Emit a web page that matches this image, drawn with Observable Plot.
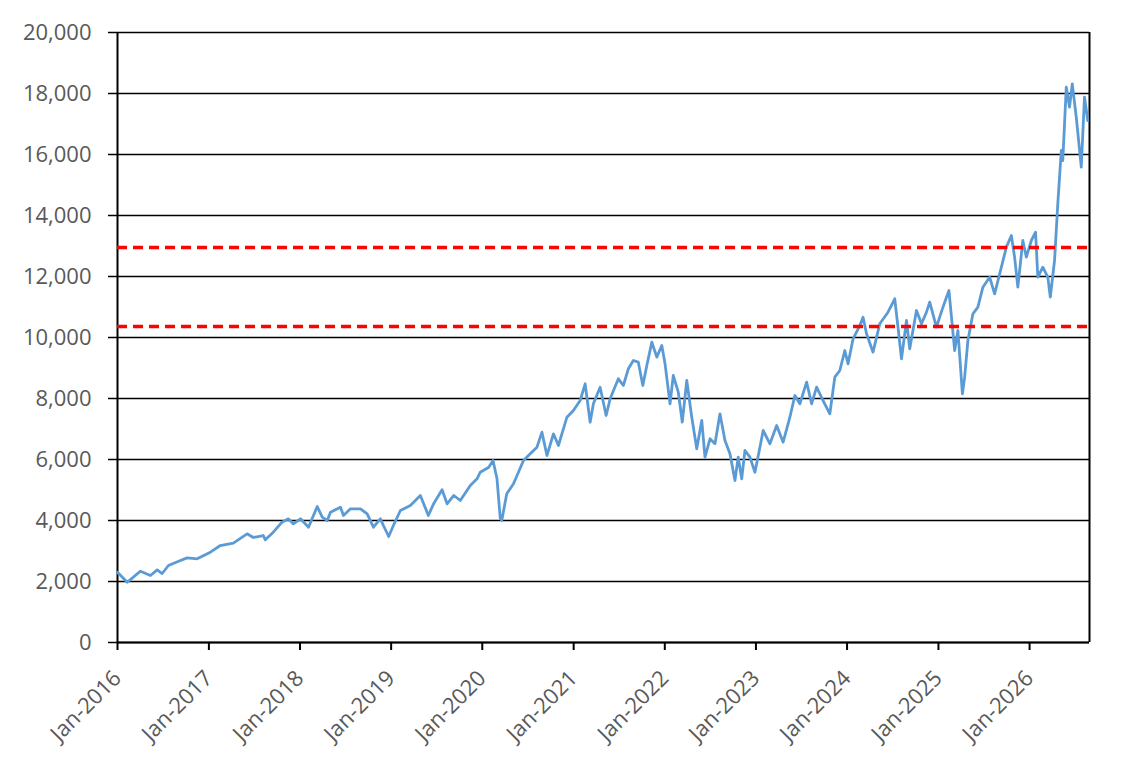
<!DOCTYPE html>
<html>
<head>
<meta charset="utf-8">
<script src="https://cdn.jsdelivr.net/npm/d3@7"></script>
<script src="https://cdn.jsdelivr.net/npm/@observablehq/plot@0.6"></script>
<style>
  html, body { margin: 0; padding: 0; background: #fff; }
</style>
</head>
<body>
<div id="chart"></div>
<script>
const dates = [
  "2016-01-01","2016-02-09","2016-04-02","2016-05-12","2016-06-08","2016-06-28","2016-07-23","2016-09-09","2016-10-06","2016-11-15",
  "2017-01-07","2017-02-16","2017-04-09","2017-06-03","2017-06-28","2017-08-07","2017-08-15","2017-09-16","2017-10-21","2017-11-15","2017-12-05",
  "2018-01-03","2018-02-04","2018-03-11","2018-03-31","2018-04-20","2018-05-03","2018-06-12","2018-06-24","2018-07-22","2018-08-31","2018-09-27","2018-10-22","2018-11-19","2018-12-01","2018-12-22",
  "2019-01-10","2019-02-07","2019-03-19","2019-04-28","2019-05-30","2019-06-20","2019-07-24","2019-08-13","2019-09-09","2019-10-05","2019-11-14","2019-12-11","2019-12-24",
  "2020-01-27","2020-02-13","2020-02-29","2020-03-13","2020-03-19","2020-04-08","2020-05-05","2020-06-14","2020-07-11","2020-08-07","2020-08-27","2020-09-16","2020-10-12","2020-11-01","2020-12-05","2020-12-31",
  "2021-01-27","2021-02-16","2021-03-08","2021-03-21","2021-04-17","2021-05-11","2021-05-27","2021-06-29","2021-07-19","2021-08-08","2021-08-28","2021-09-17","2021-10-05","2021-10-21","2021-11-10","2021-11-30","2021-12-20",
  "2022-01-02","2022-01-22","2022-02-04","2022-02-24","2022-03-12","2022-03-30","2022-04-19","2022-05-09","2022-05-29","2022-06-11","2022-07-01","2022-07-21","2022-08-10","2022-08-30","2022-09-19","2022-10-09","2022-10-22","2022-11-05","2022-11-18","2022-12-08","2022-12-28",
  "2023-01-17","2023-01-30","2023-02-19","2023-02-26","2023-03-25","2023-04-20","2023-05-17","2023-06-06","2023-06-26","2023-07-23","2023-08-12","2023-09-01","2023-09-27","2023-10-24","2023-11-13","2023-12-03","2023-12-23",
  "2024-01-05","2024-01-25","2024-02-21","2024-03-05","2024-03-19","2024-04-14","2024-05-11","2024-06-13","2024-07-10","2024-07-23","2024-08-06","2024-08-26","2024-09-08","2024-10-05","2024-10-25","2024-11-14","2024-11-27","2024-12-24",
  "2025-01-19","2025-02-12","2025-03-07","2025-03-20","2025-04-07","2025-04-16","2025-04-29","2025-05-19","2025-06-08","2025-06-28","2025-07-25","2025-08-14","2025-09-10","2025-09-30","2025-10-20","2025-11-02","2025-11-15","2025-12-05","2025-12-19",
  "2026-01-08","2026-01-25","2026-02-03","2026-02-23","2026-03-15","2026-03-25","2026-04-11","2026-04-24","2026-05-08","2026-05-14","2026-05-28","2026-06-10","2026-06-21","2026-07-07","2026-07-27","2026-08-09","2026-08-22"
];
const values = [
  2305,1977,2338,2197,2383,2262,2525,2689,2776,2743,
  2962,3180,3257,3563,3443,3508,3367,3617,3945,4055,3891,
  4055,3781,4459,4108,4000,4273,4437,4164,4383,4383,4219,3781,4055,3836,3475,
  3836,4328,4492,4820,4164,4547,5006,4547,4820,4656,5148,5367,5584,
  5748,5967,5367,4066,4000,4875,5203,5967,6186,6404,6896,6131,6842,6459,7387,7607,
  7934,8482,7223,7826,8371,7443,7990,8646,8427,8974,9246,9191,8427,9082,9847,9355,9738,
  9137,7826,8755,8207,7223,8590,7387,6350,7279,6076,6679,6514,7498,6623,6186,5311,6076,5367,6295,6076,5584,
  6404,6951,6623,6514,7115,6568,7387,8098,7826,8536,7826,8371,7934,7498,8700,8918,9574,
  9137,9957,10393,10666,10121,9519,10449,10830,11269,10338,9301,10557,9629,10885,10449,10830,11158,10338,
  10994,11541,9574,10229,8154,8700,9902,10776,10994,11650,11978,11432,12306,12962,13344,12634,11650,13180,12634,
  13180,13453,11978,12306,11978,11322,12525,14383,16131,15803,18208,17552,18317,17224,15585,17880,17115
];
const levels = [12950, 10360];
const yTicks = [0, 2000, 4000, 6000, 8000, 10000, 12000, 14000, 16000, 18000, 20000];
const xTickYears = [2016, 2017, 2018, 2019, 2020, 2021, 2022, 2023, 2024, 2025, 2026];
const xStart = "2016-01-01";
const xEnd = "2026-08-29";

const data = dates.map((d, i) => ({date: new Date(d), value: values[i]}));
const xTicks = xTickYears.map(y => new Date(Date.UTC(y, 0, 1)));
const x0 = new Date(xStart), x1 = new Date(xEnd);

const chart = Plot.plot({
  width: 1144,
  height: 769,
  marginLeft: 117,
  marginRight: 55,
  marginTop: 32,
  marginBottom: 127,
  style: {fontFamily: "'Open Sans', sans-serif", fontSize: "22px", background: "#fff", color: "#595959"},
  x: {type: "utc", domain: [x0, x1]},
  y: {domain: [0, 20000]},
  marks: [
    Plot.ruleY(yTicks, {stroke: "#000", strokeWidth: 1.5}),
    Plot.axisY({ticks: yTicks, tickSize: 9, tickPadding: 17, stroke: "#000", strokeWidth: 1.5, fill: "#595959", tickFormat: d3.format(","), label: null}),
    Plot.axisX({ticks: xTicks, tickSize: 8, tickPadding: 24, tickRotate: -45, stroke: "#000", strokeWidth: 2, fill: "#595959", tickFormat: d3.utcFormat("%b-%Y"), label: null}),
    Plot.ruleX([x0, x1], {stroke: "#000", strokeWidth: 2}),
    Plot.ruleY([0], {stroke: "#000", strokeWidth: 2}),
    Plot.line(data, {x: "date", y: "value", stroke: "#5B9BD5", strokeWidth: 2.8, strokeLinejoin: "round"}),
    Plot.ruleY(levels, {stroke: "#FF0000", strokeWidth: 3.5, strokeDasharray: "10,6"})
  ]
});
document.getElementById("chart").appendChild(chart);
</script>
</body>
</html>
